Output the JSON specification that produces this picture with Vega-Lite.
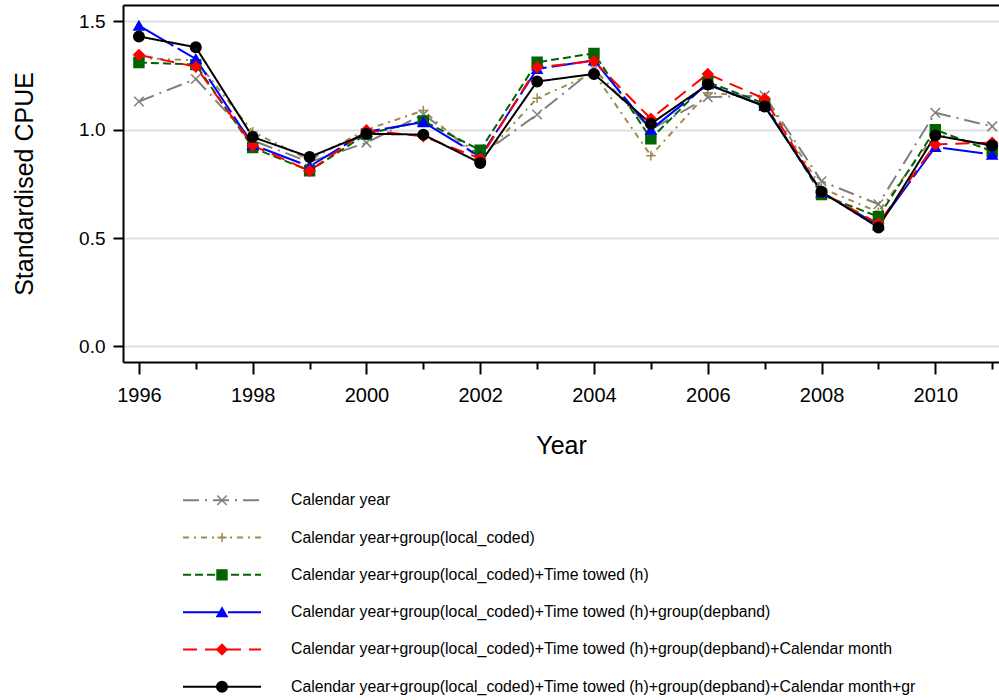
{
  "$schema": "https://vega.github.io/schema/vega-lite/v6.json",
  "padding": {"left": 12, "top": 5, "right": 0, "bottom": 0},
  "background": "white",
  "config": {
    "font": "Liberation Sans",
    "view": {"stroke": null},
    "concat": {"spacing": 31}
  },
  "datasets": {
    "cpue": [
      {"year": 1996, "s": "A", "v": 1.13}, {"year": 1997, "s": "A", "v": 1.234}, {"year": 1998, "s": "A", "v": 0.95}, {"year": 1999, "s": "A", "v": 0.85},
      {"year": 2000, "s": "A", "v": 0.94}, {"year": 2001, "s": "A", "v": 1.07}, {"year": 2002, "s": "A", "v": 0.88}, {"year": 2003, "s": "A", "v": 1.07},
      {"year": 2004, "s": "A", "v": 1.28}, {"year": 2005, "s": "A", "v": 1.0}, {"year": 2006, "s": "A", "v": 1.15}, {"year": 2007, "s": "A", "v": 1.157},
      {"year": 2008, "s": "A", "v": 0.762}, {"year": 2009, "s": "A", "v": 0.656}, {"year": 2010, "s": "A", "v": 1.078}, {"year": 2011, "s": "A", "v": 1.015},
      {"year": 1996, "s": "B", "v": 1.33}, {"year": 1997, "s": "B", "v": 1.32}, {"year": 1998, "s": "B", "v": 0.99}, {"year": 1999, "s": "B", "v": 0.86},
      {"year": 2000, "s": "B", "v": 1.0}, {"year": 2001, "s": "B", "v": 1.088}, {"year": 2002, "s": "B", "v": 0.86}, {"year": 2003, "s": "B", "v": 1.145},
      {"year": 2004, "s": "B", "v": 1.26}, {"year": 2005, "s": "B", "v": 0.88}, {"year": 2006, "s": "B", "v": 1.17}, {"year": 2007, "s": "B", "v": 1.15},
      {"year": 2008, "s": "B", "v": 0.73}, {"year": 2009, "s": "B", "v": 0.62}, {"year": 2010, "s": "B", "v": 0.98}, {"year": 2011, "s": "B", "v": 0.92},
      {"year": 1996, "s": "C", "v": 1.31}, {"year": 1997, "s": "C", "v": 1.30}, {"year": 1998, "s": "C", "v": 0.917}, {"year": 1999, "s": "C", "v": 0.81},
      {"year": 2000, "s": "C", "v": 0.98}, {"year": 2001, "s": "C", "v": 1.04}, {"year": 2002, "s": "C", "v": 0.905}, {"year": 2003, "s": "C", "v": 1.311},
      {"year": 2004, "s": "C", "v": 1.352}, {"year": 2005, "s": "C", "v": 0.958}, {"year": 2006, "s": "C", "v": 1.22}, {"year": 2007, "s": "C", "v": 1.12},
      {"year": 2008, "s": "C", "v": 0.70}, {"year": 2009, "s": "C", "v": 0.598}, {"year": 2010, "s": "C", "v": 1.0}, {"year": 2011, "s": "C", "v": 0.90},
      {"year": 1996, "s": "D", "v": 1.48}, {"year": 1997, "s": "D", "v": 1.326}, {"year": 1998, "s": "D", "v": 0.93}, {"year": 1999, "s": "D", "v": 0.83},
      {"year": 2000, "s": "D", "v": 0.99}, {"year": 2001, "s": "D", "v": 1.035}, {"year": 2002, "s": "D", "v": 0.875}, {"year": 2003, "s": "D", "v": 1.28},
      {"year": 2004, "s": "D", "v": 1.32}, {"year": 2005, "s": "D", "v": 1.0}, {"year": 2006, "s": "D", "v": 1.21}, {"year": 2007, "s": "D", "v": 1.11},
      {"year": 2008, "s": "D", "v": 0.71}, {"year": 2009, "s": "D", "v": 0.56}, {"year": 2010, "s": "D", "v": 0.92}, {"year": 2011, "s": "D", "v": 0.885},
      {"year": 1996, "s": "E", "v": 1.345}, {"year": 1997, "s": "E", "v": 1.29}, {"year": 1998, "s": "E", "v": 0.927}, {"year": 1999, "s": "E", "v": 0.81},
      {"year": 2000, "s": "E", "v": 0.997}, {"year": 2001, "s": "E", "v": 0.969}, {"year": 2002, "s": "E", "v": 0.866}, {"year": 2003, "s": "E", "v": 1.288},
      {"year": 2004, "s": "E", "v": 1.316}, {"year": 2005, "s": "E", "v": 1.05}, {"year": 2006, "s": "E", "v": 1.257}, {"year": 2007, "s": "E", "v": 1.142},
      {"year": 2008, "s": "E", "v": 0.71}, {"year": 2009, "s": "E", "v": 0.567}, {"year": 2010, "s": "E", "v": 0.932}, {"year": 2011, "s": "E", "v": 0.94},
      {"year": 1996, "s": "F", "v": 1.43}, {"year": 1997, "s": "F", "v": 1.38}, {"year": 1998, "s": "F", "v": 0.966}, {"year": 1999, "s": "F", "v": 0.874},
      {"year": 2000, "s": "F", "v": 0.981}, {"year": 2001, "s": "F", "v": 0.977}, {"year": 2002, "s": "F", "v": 0.846}, {"year": 2003, "s": "F", "v": 1.222},
      {"year": 2004, "s": "F", "v": 1.257}, {"year": 2005, "s": "F", "v": 1.027}, {"year": 2006, "s": "F", "v": 1.208}, {"year": 2007, "s": "F", "v": 1.107},
      {"year": 2008, "s": "F", "v": 0.713}, {"year": 2009, "s": "F", "v": 0.549}, {"year": 2010, "s": "F", "v": 0.973}, {"year": 2011, "s": "F", "v": 0.927}
    ],
    "legend": [
      {"s": "A", "label": "Calendar year"},
      {"s": "B", "label": "Calendar year+group(local_coded)"},
      {"s": "C", "label": "Calendar year+group(local_coded)+Time towed (h)"},
      {"s": "D", "label": "Calendar year+group(local_coded)+Time towed (h)+group(depband)"},
      {"s": "E", "label": "Calendar year+group(local_coded)+Time towed (h)+group(depband)+Calendar month"},
      {"s": "F", "label": "Calendar year+group(local_coded)+Time towed (h)+group(depband)+Calendar month+gr"}
    ]
  },
  "vconcat": [
    {
      "width": 876,
      "height": 357,
      "data": {"name": "cpue"},
      "layer": [
        {
          "mark": {"type": "line", "clip": true},
          "encoding": {
            "x": {"field": "year", "type": "quantitative",
              "scale": {"domain": [1995.72, 2011.12], "nice": false, "zero": false},
              "axis": {
                "values": [1996, 1997, 1998, 1999, 2000, 2001, 2002, 2003, 2004, 2005, 2006, 2007, 2008, 2009, 2010, 2011],
                "format": "d",
                "labelExpr": "datum.value % 2 == 0 ? datum.label : ''",
                "tickSize": {"condition": {"test": "datum.value % 2 == 0", "value": 12}, "value": 7},
                "grid": false,
                "domainColor": "black", "domainWidth": 2,
                "tickColor": "black", "tickWidth": 2,
                "labelFontSize": 20, "labelColor": "black", "labelPadding": 11,
                "labelOverlap": false, "labelFlush": false,
                "title": "Year", "titleFontSize": 25, "titleFontWeight": "normal", "titleColor": "black", "titlePadding": 28
              }
            },
            "y": {"field": "v", "type": "quantitative",
              "scale": {"domain": [-0.072, 1.575], "nice": false, "zero": false},
              "axis": {
                "values": [0, 0.5, 1, 1.5], "format": ".1f",
                "grid": true, "gridColor": "#e0e0e0", "gridWidth": 2,
                "domainColor": "black", "domainWidth": 2,
                "tickColor": "black", "tickWidth": 2, "tickSize": 10,
                "labelFontSize": 19, "labelColor": "black", "labelPadding": 8,
                "title": "Standardised CPUE", "titleFontSize": 25, "titleFontWeight": "normal", "titleColor": "black", "titlePadding": 41
              }
            },
            "detail": {"field": "s"},
            "color": {"field": "s", "type": "nominal", "legend": null,
              "scale": {"domain": ["A", "B", "C", "D", "E", "F"], "range": ["#7f7f7f", "#a08a52", "#006400", "#0000ff", "#ff0000", "#000000"]}},
            "strokeDash": {"field": "s", "type": "nominal", "legend": null,
              "scale": {"domain": ["A", "B", "C", "D", "E", "F"], "range": [[16, 6, 2, 6], [6, 5, 2, 5], [8, 4], [40, 5], [14, 8], [1, 0]]}},
            "strokeWidth": {"field": "s", "type": "nominal", "legend": null,
              "scale": {"domain": ["A", "B", "C", "D", "E", "F"], "range": [2, 2, 3, 2, 2, 3]}}
          }
        },
        {
          "mark": {"type": "point", "filled": true, "opacity": 1, "strokeWidth": 1.5},
          "encoding": {
            "x": {"field": "year", "type": "quantitative",
              "axis": {"orient": "top", "labels": false, "ticks": false, "grid": false, "title": null, "domainColor": "black", "domainWidth": 2}},
            "y": {"field": "v", "type": "quantitative",
              "axis": {
                "values": [0, 0.5, 1, 1.5], "format": ".1f",
                "grid": true, "gridColor": "#e0e0e0", "gridWidth": 2,
                "domainColor": "black", "domainWidth": 2,
                "tickColor": "black", "tickWidth": 2, "tickSize": 10,
                "labelFontSize": 19, "labelColor": "black", "labelPadding": 8,
                "title": "Standardised CPUE", "titleFontSize": 25, "titleFontWeight": "normal", "titleColor": "black", "titlePadding": 41
              }
            },
            "shape": {"field": "s", "type": "nominal", "legend": null,
              "scale": {"domain": ["A", "B", "C", "D", "E", "F"], "range": ["M-1,-1L1,1M-1,1L1,-1", "M-1,0H1M0,-1V1", "square", "triangle-up", "diamond", "circle"]}},
            "fill": {"field": "s", "type": "nominal", "legend": null,
              "scale": {"domain": ["A", "B", "C", "D", "E", "F"], "range": ["#7f7f7f", "#a08a52", "#006400", "#0000ff", "#ff0000", "#000000"]}},
            "stroke": {"field": "s", "type": "nominal", "legend": null,
              "scale": {"domain": ["A", "B", "C", "D", "E", "F"], "range": ["#7f7f7f", "#a08a52", "#006400", "#0000ff", "#ff0000", "#000000"]}},
            "size": {"field": "s", "type": "nominal", "legend": null,
              "scale": {"domain": ["A", "B", "C", "D", "E", "F"], "range": [90, 110, 70, 70, 110, 55]}}
          }
        }
      ],
      "resolve": {"axis": {"x": "independent"}}
    },
    {
      "width": 876,
      "height": 209,
      "data": {"name": "legend"},
      "encoding": {
        "y": {"field": "s", "type": "nominal", "axis": null,
          "scale": {"type": "point", "padding": 0.3, "domain": ["A", "B", "C", "D", "E", "F"]}}
      },
      "layer": [
        {
          "mark": {"type": "rule"},
          "encoding": {
            "x": {"datum": 60, "type": "quantitative", "scale": {"domain": [0, 876], "nice": false, "zero": false}, "axis": null},
            "x2": {"datum": 138},
            "color": {"field": "s", "type": "nominal", "legend": null},
            "strokeDash": {"field": "s", "type": "nominal", "legend": null},
            "strokeWidth": {"field": "s", "type": "nominal", "legend": null}
          }
        },
        {
          "mark": {"type": "point", "filled": true, "opacity": 1, "strokeWidth": 1.5},
          "encoding": {
            "x": {"datum": 99, "type": "quantitative"},
            "shape": {"field": "s", "type": "nominal", "legend": null},
            "fill": {"field": "s", "type": "nominal", "legend": null},
            "stroke": {"field": "s", "type": "nominal", "legend": null},
            "size": {"field": "s", "type": "nominal", "legend": null}
          }
        },
        {
          "mark": {"type": "text", "align": "left", "baseline": "middle", "fontSize": 15.8, "color": "black"},
          "encoding": {
            "x": {"datum": 168, "type": "quantitative"},
            "text": {"field": "label"}
          }
        }
      ]
    }
  ]
}
